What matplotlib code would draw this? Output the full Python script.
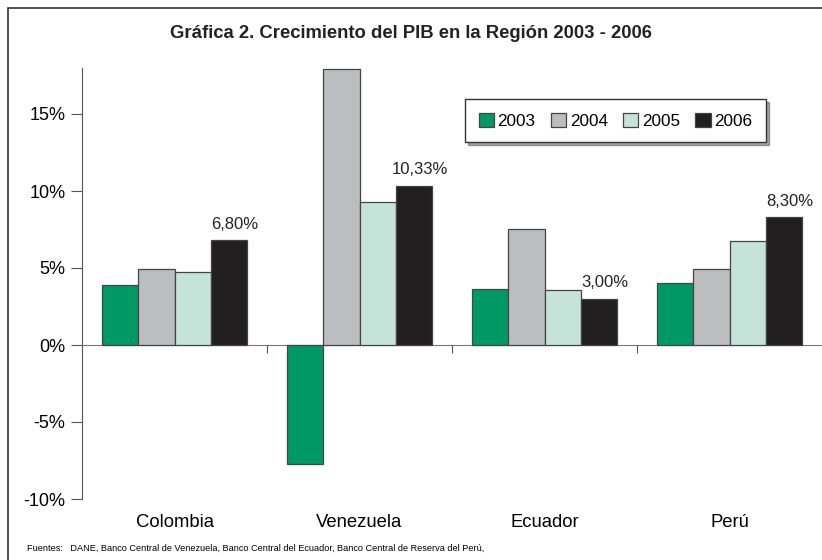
import matplotlib

matplotlib.use("Agg")
import matplotlib.pyplot as plt
import numpy as np
from matplotlib.patches import Rectangle

plt.rcParams.update({
    "font.family": ["Liberation Sans", "DejaVu Sans"],
    "font.size": 12,
})

countries = ["Colombia", "Venezuela", "Ecuador", "Perú"]
years = ["2003", "2004", "2005", "2006"]
g2003 = [3.9, -7.7, 3.65, 4.05]
g2004 = [4.95, 17.9, 7.55, 4.95]
g2005 = [4.75, 9.3, 3.55, 6.75]
g2006 = [6.80, 10.33, 3.00, 8.30]
labels_2006 = ["6,80%", "10,33%", "3,00%", "8,30%"]

colors = ["#009966", "#bcbdc0", "#c6e3d9", "#231f20"]
series = [g2003, g2004, g2005, g2006]

fig = plt.figure(figsize=(8.22, 5.6), dpi=100)
ax = fig.add_axes([82 / 822, 1 - 499 / 560, 740 / 822, (499 - 67.8) / 560])

# outer frame
fig.patches.append(Rectangle((8 / 822, -0.05), 1.2, 1 - 8 / 560 + 0.05,
                             transform=fig.transFigure, fill=False,
                             edgecolor="#333333", lw=1.2))

x = np.arange(len(countries))
w = 0.197
for i, (vals, c, yr) in enumerate(zip(series, colors, years)):
    ax.bar(x + (i - 1.5) * w, vals, width=w, color=c, edgecolor="#444444",
           lw=0.9, label=yr, zorder=3)

for xi, v, t in zip(x, g2006, labels_2006):
    ax.text(xi + 1.5 * w + 0.03, v + 0.55, t, ha="center", va="bottom",
            fontsize=12, color="#222222")

ax.set_xlim(-0.5, len(countries) - 0.5)
ax.set_ylim(-10, 18)
ax.set_yticks([-10, -5, 0, 5, 10, 15])
ax.set_yticklabels(["-10%", "-5%", "0%", "5%", "10%", "15%"], fontsize=13)

for s in ["top", "right"]:
    ax.spines[s].set_visible(False)
ax.spines["bottom"].set_position(("data", 0))
ax.spines["bottom"].set_color("#777777")
ax.spines["left"].set_color("#555555")
ax.set_xticks(x[1:] - 0.5)
ax.set_xticklabels([])
ax.tick_params(axis="x", length=6, color="#555555", direction="out")
ax.tick_params(axis="y", length=8, color="#555555", direction="out", pad=4)
ax.set_facecolor("none")

for xi, name in zip(x, countries):
    ax.text(xi, -0.055, name, transform=ax.get_xaxis_transform(),
            ha="center", va="center", fontsize=13.3)

fig.text(0.5, 1 - 33 / 560, "Gráfica 2. Crecimiento del PIB en la Región 2003 - 2006",
         ha="center", va="center", fontsize=13.3, fontweight="bold",
         color="#222222")
fig.text(27 / 822, 1 - 548 / 560,
         "Fuentes:   DANE, Banco Central de Venezuela, Banco Central del Ecuador, "
         "Banco Central de Reserva del Perú,",
         ha="left", va="center", fontsize=6.6)

leg = ax.legend(loc="upper left", bbox_to_anchor=(465 / 822, 1 - 99 / 560),
                bbox_transform=fig.transFigure, ncol=4, frameon=True,
                fancybox=False, shadow=True, edgecolor="#333333",
                handlelength=0.9, handleheight=0.9, handletextpad=0.2,
                columnspacing=0.9, fontsize=12.3, borderpad=0.8,
                borderaxespad=0)
leg.get_frame().set_linewidth(1.0)

fig.savefig("out.png", dpi=100)
